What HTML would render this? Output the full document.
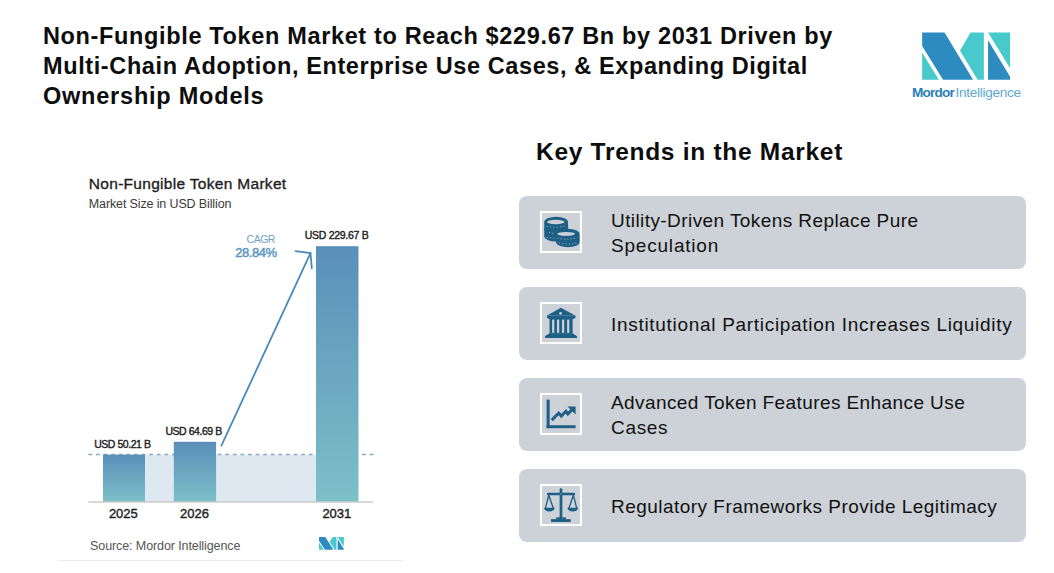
<!DOCTYPE html>
<html><head><meta charset="utf-8">
<style>
*{margin:0;padding:0;box-sizing:border-box}
html,body{width:1054px;height:573px;overflow:hidden;background:#fff;font-family:"Liberation Sans",sans-serif}
.a{position:absolute;white-space:nowrap}
.title{left:43px;top:20.7px;font-size:23.5px;line-height:30px;font-weight:bold;color:#0d0d0d}
.kt{left:536px;top:137px;font-size:24.5px;line-height:30px;font-weight:bold;color:#0d0d0d;letter-spacing:0.71px}
.card{position:absolute;left:519px;width:507px;height:73px;background:#cdd1d8;border-radius:8px}
.ib{position:absolute;left:21px;top:15px;width:42px;height:42px;border:2px solid #fff}
.ib svg{position:absolute;left:-2px;top:-2px;width:42px;height:42px}
.ct{position:absolute;left:92px;font-size:19px;line-height:25px;color:#111}
.ch{font-size:15px;color:#1e1e1e}
</style></head><body>

<div class="a title"><span style="letter-spacing:0.646px">Non-Fungible Token Market to Reach $229.67 Bn by 2031 Driven by</span><br><span style="letter-spacing:0.61px">Multi-Chain Adoption, Enterprise Use Cases, &amp; Expanding Digital</span><br><span style="letter-spacing:0.78px">Ownership Models</span></div>

<!-- logo -->
<svg class="a" style="left:915px;top:25px" width="100" height="60" viewBox="0 0 955 573">
<polygon fill="#2e8bc0" points="68,72 282,72 555,522 268,522 68,200"/>
<polygon fill="#48c9cc" points="68,262 228,522 68,522"/>
<polygon fill="#48c9cc" points="530,72 658,72 658,522 598,522 430,245"/>
<polygon fill="#48c9cc" points="698,72 908,72 908,412"/>
<polygon fill="#2e8bc0" points="698,145 908,495 908,522 698,522"/>
</svg>
<div class="a" style="left:911.9px;top:85.6px;font-size:13.6px;line-height:14px;color:#2a80b6;font-weight:bold;letter-spacing:-0.8px">Mordor</div>
<div class="a" style="left:955.5px;top:85.6px;font-size:13.6px;line-height:14px;color:#5ea8d0;letter-spacing:-0.3px">Intelligence</div>

<div class="a kt">Key Trends in the Market</div>

<!-- chart -->
<div class="a" style="left:88.8px;top:176px;font-size:15.5px;line-height:16px;color:#1e1e1e;letter-spacing:0.3px;-webkit-text-stroke:0.35px #1e1e1e">Non-Fungible Token Market</div>
<div class="a" style="left:88.8px;top:197px;font-size:12.5px;line-height:14px;color:#3a3a3a;letter-spacing:-0.13px">Market Size in USD Billion</div>

<svg class="a" style="left:0;top:0" width="520" height="573">
<defs>
<linearGradient id="bg" x1="0" y1="0" x2="0" y2="1"><stop offset="0" stop-color="#5a8fba"/><stop offset="1" stop-color="#7cc0c8"/></linearGradient>
<linearGradient id="bg2" x1="0" y1="246" x2="0" y2="501.5" gradientUnits="userSpaceOnUse"><stop offset="0" stop-color="#5a8fba"/><stop offset="1" stop-color="#7cc0c8"/></linearGradient>
</defs>
<rect x="103" y="455" width="213" height="47" fill="#dee8f1"/>
<line x1="88.4" y1="454.6" x2="375" y2="454.6" stroke="#86a9c8" stroke-width="1.5" stroke-dasharray="3.8 3.8"/>
<rect x="103" y="454.6" width="42" height="47.4" fill="url(#bg)"/>
<rect x="173.8" y="441.8" width="42.3" height="60.2" fill="url(#bg)"/>
<rect x="316" y="246.2" width="42.5" height="255.8" fill="url(#bg2)"/>
<line x1="88.4" y1="502" x2="373.3" y2="502" stroke="#cbcbcb" stroke-width="1.6"/>
<g stroke="#4a8ab8" stroke-width="1.8" fill="none" stroke-linecap="round">
<line x1="221.4" y1="445.6" x2="310.5" y2="253"/>
<polyline points="295.5,251.2 310.5,253 311.8,268.3"/>
</g>
<line x1="57" y1="560.5" x2="403" y2="560.5" stroke="#ececec" stroke-width="1"/>
</svg>

<div class="a" style="left:304.7px;top:229px;font-size:10.5px;line-height:12px;color:#1e1e1e;letter-spacing:-0.28px;-webkit-text-stroke:0.4px #1e1e1e">USD 229.67 B</div>
<div class="a" style="left:246.6px;top:233px;font-size:10.5px;line-height:12px;color:#6da3c9;letter-spacing:-0.5px">CAGR</div>
<div class="a" style="left:235.2px;top:246px;font-size:13px;line-height:14px;color:#5a96c2;letter-spacing:-0.45px;-webkit-text-stroke:0.45px #5a96c2">28.84%</div>
<div class="a" style="left:94.2px;top:438px;font-size:10.5px;line-height:12px;color:#1e1e1e;letter-spacing:-0.45px;-webkit-text-stroke:0.4px #1e1e1e">USD 50.21 B</div>
<div class="a" style="left:165.4px;top:425px;font-size:10.5px;line-height:12px;color:#1e1e1e;letter-spacing:-0.45px;-webkit-text-stroke:0.4px #1e1e1e">USD 64.69 B</div>
<div class="a" style="left:108.9px;top:507px;font-size:13px;line-height:14px;color:#1e1e1e;-webkit-text-stroke:0.4px #1e1e1e">2025</div>
<div class="a" style="left:180.1px;top:507px;font-size:13px;line-height:14px;color:#1e1e1e;-webkit-text-stroke:0.4px #1e1e1e">2026</div>
<div class="a" style="left:322.4px;top:507px;font-size:13px;line-height:14px;color:#1e1e1e;-webkit-text-stroke:0.4px #1e1e1e">2031</div>
<div class="a" style="left:90.1px;top:538.5px;font-size:12.5px;line-height:14px;color:#555;letter-spacing:-0.1px">Source: Mordor Intelligence</div>
<svg class="a" style="left:316.6px;top:534.5px" width="28.3" height="16.3" viewBox="0 0 955 573" preserveAspectRatio="none">
<polygon fill="#2e8bc0" points="68,72 282,72 555,522 268,522 68,200"/>
<polygon fill="#48c9cc" points="68,262 228,522 68,522"/>
<polygon fill="#48c9cc" points="530,72 658,72 658,522 598,522 430,245"/>
<polygon fill="#48c9cc" points="698,72 908,72 908,412"/>
<polygon fill="#2e8bc0" points="698,145 908,495 908,522 698,522"/>
</svg>

<!-- cards -->
<div class="card" style="top:196px">
 <div class="ib"><svg viewBox="0 0 573 573">
  <g fill="#1d5f85">
   <path d="M58,150 A162,72 0 0 1 382,150 L384,238 Q392,250 380,262 L380,345 A161,70 0 0 1 58,345 L58,262 Q48,250 58,238 Z"/>
   <path d="M220,312 A160,70 0 0 1 540,312 L540,425 A160,68 0 0 1 220,425 Z"/>
  </g>
  <ellipse cx="215" cy="150" rx="120" ry="31" fill="#cdd1d8"/>
  <ellipse cx="357" cy="312" rx="122" ry="27" fill="#cdd1d8"/>
  <g fill="#cdd1d8">
   <rect x="92" y="205" width="12" height="12"/><rect x="138" y="211" width="12" height="12"/><rect x="184" y="214" width="12" height="12"/><rect x="230" y="214" width="12" height="12"/><rect x="276" y="210" width="12" height="12"/><rect x="322" y="203" width="12" height="12"/>
   <rect x="122" y="290" width="12" height="12"/><rect x="168" y="298" width="12" height="12"/>
   <rect x="95" y="355" width="12" height="12"/><rect x="140" y="362" width="12" height="12"/><rect x="183" y="366" width="12" height="12"/>
   <rect x="240" y="365" width="12" height="12"/><rect x="282" y="374" width="12" height="12"/><rect x="328" y="378" width="12" height="12"/><rect x="374" y="378" width="12" height="12"/><rect x="420" y="374" width="12" height="12"/><rect x="462" y="366" width="12" height="12"/>
   <rect x="262" y="432" width="12" height="12"/><rect x="305" y="440" width="12" height="12"/><rect x="350" y="444" width="12" height="12"/><rect x="396" y="444" width="12" height="12"/><rect x="440" y="440" width="12" height="12"/><rect x="484" y="432" width="12" height="12"/>
  </g>
 </svg></div>
 <div class="ct" style="top:12px"><span style="letter-spacing:0.418px">Utility-Driven Tokens Replace Pure</span><br><span style="letter-spacing:0.8px">Speculation</span></div>
</div>

<div class="card" style="top:287px">
 <div class="ib"><svg viewBox="0 0 573 573">
  <g fill="#1d5f85">
   <polygon points="285,78 95,185 480,185"/>
   <path d="M95,185 L485,185 L485,212 Q470,232 445,232 L130,232 Q105,232 95,212 Z"/>
   <rect x="130" y="225" width="315" height="205"/>
   <polygon points="130,425 445,425 505,468 505,490 68,490 68,468"/>
  </g>
  <circle cx="280" cy="155" r="18" fill="#cdd1d8"/>
  <g fill="#cdd1d8">
   <rect x="165" y="240" width="30" height="180"/><rect x="232" y="240" width="30" height="180"/><rect x="300" y="240" width="30" height="180"/><rect x="370" y="240" width="30" height="180"/>
  </g>
 </svg></div>
 <div class="ct" style="top:24.8px"><span style="letter-spacing:0.698px">Institutional Participation Increases Liquidity</span></div>
</div>

<div class="card" style="top:378px">
 <div class="ib"><svg viewBox="0 0 573 573">
  <g fill="#1d5f85">
   <rect x="90" y="90" width="42" height="390"/>
   <rect x="90" y="440" width="395" height="40"/>
   <polygon points="375,185 485,185 485,295"/>
  </g>
  <polyline points="160,370 255,275 290,315 355,250 380,285 460,205" fill="none" stroke="#1d5f85" stroke-width="40" stroke-linejoin="miter"/>
 </svg></div>
 <div class="ct" style="top:12px"><span style="letter-spacing:0.41px">Advanced Token Features Enhance Use</span><br><span style="letter-spacing:0.685px">Cases</span></div>
</div>

<div class="card" style="top:469px">
 <div class="ib"><svg viewBox="0 0 573 573">
  <g fill="#1d5f85">
   <rect x="268" y="58" width="37" height="412" rx="18"/>
   <rect x="95" y="120" width="385" height="35" rx="17"/>
   <path d="M55,325 L200,325 Q195,375 128,375 Q60,375 55,325 Z"/>
   <path d="M375,325 L520,325 Q515,375 448,375 Q380,375 375,325 Z"/>
   <rect x="220" y="455" width="135" height="30"/>
   <rect x="150" y="480" width="270" height="38"/>
  </g>
  <g stroke="#1d5f85" stroke-width="18" fill="none" stroke-linejoin="round">
   <polyline points="75,330 120,150 180,330"/>
   <polyline points="395,330 455,150 500,330"/>
  </g>
  <circle cx="287" cy="135" r="8" fill="#cdd1d8"/>
 </svg></div>
 <div class="ct" style="top:25.1px"><span style="letter-spacing:0.47px">Regulatory Frameworks Provide Legitimacy</span></div>
</div>

</body></html>
